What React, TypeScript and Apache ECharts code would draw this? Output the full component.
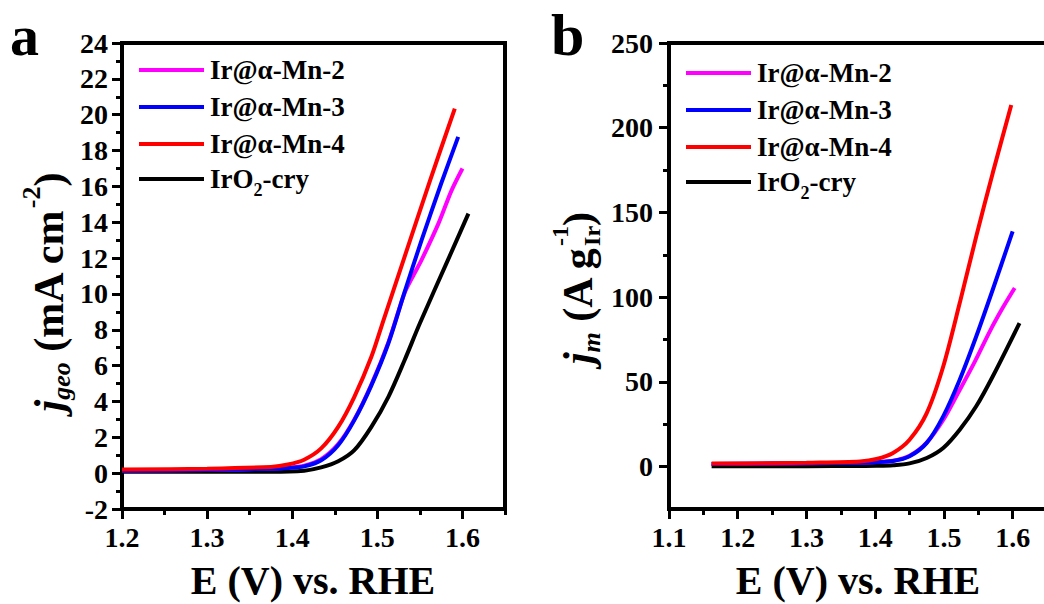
import React, { useEffect, useRef } from 'react';
import * as echarts from 'echarts';

const FONT = 'Liberation Serif';

const seriesNames = ['Ir@α-Mn-2', 'Ir@α-Mn-3', 'Ir@α-Mn-4', 'IrO2-cry'];
const seriesColors = ['#FF00FF', '#0000FF', '#FF0000', '#000000'];

// Panel a: j_geo (mA cm^-2) vs E (V)
const geoMn2 = [[1.2, 0.15], [1.3, 0.18], [1.375, 0.25], [1.395, 0.3], [1.414, 0.42], [1.434, 0.78], [1.454, 1.62], [1.473, 3.0], [1.493, 4.95], [1.513, 7.3], [1.532, 10.05], [1.542, 11.0], [1.552, 11.9], [1.572, 13.95], [1.587, 15.75], [1.6, 17.0]];
const geoMn3 = [[1.2, 0.15], [1.3, 0.18], [1.375, 0.25], [1.395, 0.29], [1.414, 0.38], [1.434, 0.72], [1.454, 1.56], [1.473, 2.96], [1.493, 4.9], [1.513, 7.25], [1.532, 10.1], [1.552, 13.0], [1.575, 16.16], [1.595, 18.76]];
const geoMn4 = [[1.2, 0.2], [1.3, 0.25], [1.375, 0.35], [1.395, 0.48], [1.414, 0.75], [1.434, 1.38], [1.454, 2.58], [1.473, 4.26], [1.493, 6.49], [1.507, 8.5], [1.532, 12.07], [1.562, 16.34], [1.591, 20.34]];
const geoIrO2 = [[1.2, 0.08], [1.3, 0.08], [1.375, 0.08], [1.414, 0.14], [1.434, 0.32], [1.454, 0.66], [1.473, 1.28], [1.493, 2.58], [1.513, 4.26], [1.532, 6.3], [1.55, 8.36], [1.583, 11.9], [1.607, 14.48]];

// Panel b: j_m (A g_Ir^-1) vs E (V)
const mMn2 = [[1.162, 1.5], [1.25, 1.8], [1.3, 2.0], [1.378, 2.3], [1.402, 2.7], [1.426, 3.5], [1.45, 6.4], [1.475, 14.2], [1.499, 27.5], [1.52, 43.0], [1.545, 62.0], [1.567, 80.0], [1.586, 94.0], [1.603, 105.4]];
const mMn3 = [[1.162, 1.5], [1.25, 1.8], [1.3, 2.0], [1.378, 2.3], [1.402, 2.6], [1.426, 3.3], [1.45, 6.1], [1.475, 14.0], [1.499, 29.7], [1.523, 51.3], [1.547, 76.8], [1.571, 104.4], [1.6, 138.8]];
const mMn4 = [[1.162, 1.8], [1.25, 2.0], [1.3, 2.3], [1.378, 3.1], [1.402, 4.5], [1.426, 8.1], [1.45, 15.9], [1.475, 31.6], [1.499, 59.1], [1.523, 96.5], [1.547, 135.8], [1.571, 173.2], [1.598, 213.4]];
const mIrO2 = [[1.162, 0.2], [1.25, 0.2], [1.3, 0.3], [1.378, 0.35], [1.402, 0.45], [1.426, 0.8], [1.45, 1.9], [1.475, 5.1], [1.499, 11.0], [1.523, 21.8], [1.547, 35.6], [1.571, 53.2], [1.61, 84.7]];

// Ticks
const xTicksA = [1.2, 1.3, 1.4, 1.5, 1.6];
const xMinorA = [1.25, 1.35, 1.45, 1.55, 1.65];
const yTicksA = [-2, 0, 2, 4, 6, 8, 10, 12, 14, 16, 18, 20, 22, 24];
const yMinorA = [-1, 1, 3, 5, 7, 9, 11, 13, 15, 17, 19, 21, 23];
const xTicksB = [1.1, 1.2, 1.3, 1.4, 1.5, 1.6];
const xMinorB = [1.15, 1.25, 1.35, 1.45, 1.55, 1.65];
const yTicksB = [0, 50, 100, 150, 200, 250];
const yMinorB = [25, 75, 125, 175, 225];

type Seg = { t: string; size: number; italic?: boolean; dy?: number; noAdvance?: boolean };

let measureCtx: CanvasRenderingContext2D | null = null;
function fontStr(size: number, italic?: boolean) {
  return `${italic ? 'italic ' : ''}bold ${size}px ${FONT}`;
}
function measure(t: string, size: number, italic?: boolean) {
  if (!measureCtx) measureCtx = document.createElement('canvas').getContext('2d');
  if (!measureCtx) return t.length * size * 0.5;
  measureCtx.font = fontStr(size, italic);
  return measureCtx.measureText(t).width;
}
const MID = 0.3375;
function segLine(segs: Seg[], x: number, y: number, rotation: number, center: boolean) {
  const children: any[] = [];
  let cx = 0;
  let pending = 0;
  for (const s of segs) {
    const w = measure(s.t, s.size, s.italic);
    children.push({
      type: 'text',
      x: cx,
      y: (s.dy || 0) - MID * s.size,
      style: {
        text: s.t, fontFamily: FONT, fontSize: s.size, fontWeight: 'bold',
        fontStyle: s.italic ? 'italic' : 'normal', fill: '#000', align: 'left', verticalAlign: 'middle',
      },
    });
    if (s.noAdvance) {
      pending = w;
    } else {
      cx += Math.max(w, pending);
      pending = 0;
    }
  }
  const total = cx;
  if (center) {
    for (const c of children) c.x -= total / 2;
  }
  return { type: 'group', x, y, rotation, children };
}

function plainText(t: string, x: number, baseline: number, size: number, align: string) {
  return {
    type: 'text', x, y: baseline - MID * size,
    style: { text: t, fontFamily: FONT, fontSize: size, fontWeight: 'bold', fill: '#000', align, verticalAlign: 'middle' },
  };
}

function legendGraphics(x0: number, ys: number[]) {
  const out: any[] = [];
  const labels: Seg[][] = [
    [{ t: seriesNames[0], size: 27 }],
    [{ t: seriesNames[1], size: 27 }],
    [{ t: seriesNames[2], size: 27 }],
    [{ t: 'IrO', size: 27 }, { t: '2', size: 18, dy: 8 }, { t: '-cry', size: 27 }],
  ];
  [0, 1, 2, 3].forEach((i, k) => {
    out.push({
      type: 'line',
      shape: { x1: x0, y1: ys[k], x2: x0 + 65, y2: ys[k] },
      style: { stroke: seriesColors[i], lineWidth: 4 },
    });
    out.push(segLine(labels[i], x0 + 71, ys[k] + MID * 27, 0, false));
  });
  return out;
}

function makeSeries(name: string, data: number[][], color: string, xi: number, yi: number) {
  return {
    type: 'line',
    name,
    data,
    xAxisIndex: xi,
    yAxisIndex: yi,
    symbol: 'none',
    showSymbol: false,
    smooth: 0.3,
    lineStyle: { color, width: 4 },
    itemStyle: { color },
    clip: true,
  };
}

const axisFont = { fontFamily: FONT, fontWeight: 'bold', fontSize: 28, color: '#000' };

function mainX(grid: number, min: number, max: number, ticks: number[]) {
  return {
    type: 'value', gridIndex: grid, min, max, position: 'bottom',
    axisLine: { show: true, onZero: false, lineStyle: { color: '#000', width: 4 } },
    axisTick: { show: true, inside: false, length: 10, lineStyle: { color: '#000', width: 3 }, customValues: ticks },
    axisLabel: { ...axisFont, margin: 14, customValues: ticks, formatter: (v: number) => v.toFixed(1) },
    splitLine: { show: false },
  };
}
function minorX(grid: number, min: number, max: number, ticks: number[]) {
  return {
    type: 'value', gridIndex: grid, min, max, position: 'bottom',
    axisLine: { show: false, onZero: false },
    axisTick: { show: true, inside: false, length: 6, lineStyle: { color: '#000', width: 3 }, customValues: ticks },
    axisLabel: { show: false },
    splitLine: { show: false },
  };
}
function mainY(grid: number, min: number, max: number, ticks: number[], margin: number) {
  return {
    type: 'value', gridIndex: grid, min, max, position: 'left',
    axisLine: { show: true, onZero: false, lineStyle: { color: '#000', width: 4 } },
    axisTick: { show: true, inside: false, length: 10, lineStyle: { color: '#000', width: 3 }, customValues: ticks },
    axisLabel: { ...axisFont, margin, customValues: ticks, formatter: (v: number) => String(v) },
    splitLine: { show: false },
  };
}
function minorY(grid: number, min: number, max: number, ticks: number[]) {
  return {
    type: 'value', gridIndex: grid, min, max, position: 'left',
    axisLine: { show: false, onZero: false },
    axisTick: { show: true, inside: false, length: 6, lineStyle: { color: '#000', width: 3 }, customValues: ticks },
    axisLabel: { show: false },
    splitLine: { show: false },
  };
}

export default function App() {
  const ref = useRef<HTMLDivElement>(null);
  useEffect(() => {
    document.body.style.margin = '0';
    if (!ref.current) return;
    const chart = echarts.init(ref.current, undefined, { renderer: 'svg' });
    const graphic: any[] = [
      plainText('a', 10, 55, 58, 'left'),
      plainText('b', 551, 55, 60, 'left'),
      plainText('E (V) vs. RHE', 313, 594, 40, 'center'),
      plainText('E (V) vs. RHE', 858, 594, 40, 'center'),
      segLine([
        { t: 'j', size: 42, italic: true },
        { t: 'geo', size: 26, italic: true, dy: 7 },
        { t: ' (mA cm', size: 42 },
        { t: '-2', size: 26, dy: -23 },
        { t: ')', size: 42 },
      ], 63, 292, Math.PI / 2, true),
      segLine([
        { t: 'j', size: 42, italic: true },
        { t: 'm', size: 26, italic: true, dy: 8 },
        { t: ' (A g', size: 42 },
        { t: '-1', size: 24, dy: -24, noAdvance: true },
        { t: 'Ir', size: 24, dy: 8 },
        { t: ')', size: 42 },
      ], 592, 288, Math.PI / 2, true),
      ...legendGraphics(139, [70, 107, 144, 179]),
      ...legendGraphics(686, [73, 110, 147, 182]),
    ];
    chart.setOption({
      animation: false,
      backgroundColor: '#fff',
      textStyle: { fontFamily: FONT },
      grid: [
        { left: 122, top: 43, width: 383, height: 466, show: true, borderColor: '#000', borderWidth: 4, backgroundColor: 'transparent', containLabel: false, outerBoundsMode: 'none' },
        { left: 669, top: 43, width: 378, height: 466, show: true, borderColor: '#000', borderWidth: 4, backgroundColor: 'transparent', containLabel: false, outerBoundsMode: 'none' },
      ],
      xAxis: [
        mainX(0, 1.2, 1.65, xTicksA),
        minorX(0, 1.2, 1.65, xMinorA),
        mainX(1, 1.1, 1.65, xTicksB),
        minorX(1, 1.1, 1.65, xMinorB),
      ],
      yAxis: [
        mainY(0, -2, 24, yTicksA, 14),
        minorY(0, -2, 24, yMinorA),
        mainY(1, -25, 250, yTicksB, 16),
        minorY(1, -25, 250, yMinorB),
      ],
      series: [
        makeSeries(seriesNames[3], geoIrO2, seriesColors[3], 0, 0),
        makeSeries(seriesNames[0], geoMn2, seriesColors[0], 0, 0),
        makeSeries(seriesNames[1], geoMn3, seriesColors[1], 0, 0),
        makeSeries(seriesNames[2], geoMn4, seriesColors[2], 0, 0),
        makeSeries(seriesNames[3], mIrO2, seriesColors[3], 2, 2),
        makeSeries(seriesNames[0], mMn2, seriesColors[0], 2, 2),
        makeSeries(seriesNames[1], mMn3, seriesColors[1], 2, 2),
        makeSeries(seriesNames[2], mMn4, seriesColors[2], 2, 2),
      ],
      graphic,
    });
    return () => chart.dispose();
  }, []);
  return <div ref={ref} style={{ width: 1044, height: 604 }} />;
}
